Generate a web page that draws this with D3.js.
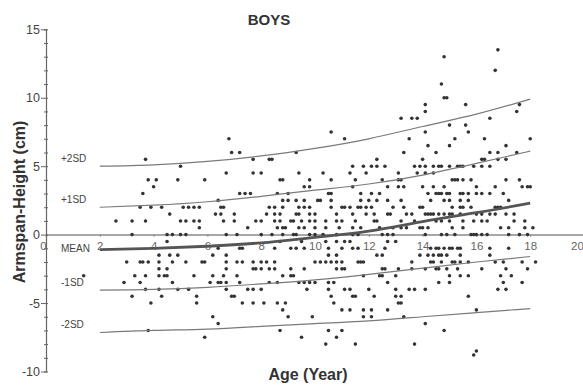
<!DOCTYPE html>
<html>
<head>
<meta charset="utf-8">
<script src="https://cdn.jsdelivr.net/npm/d3@7"></script>
<style>
  body { margin: 0; background: #fff; }
  svg { font-family: "Liberation Sans", Arial, sans-serif; }
</style>
</head>
<body>
<div id="chart"></div>
<script>
var width = 583, height = 388;

// reference curves (age in years, armspan minus height in cm)
var sdAges   = [2, 4, 6, 8, 10, 12, 14, 16, 18];
var plus2SD  = [5.0, 5.1, 5.35, 5.75, 6.3, 7.0, 7.9, 8.8, 9.9];
var plus1SD  = [2.0, 2.15, 2.4, 2.8, 3.25, 3.7, 4.35, 5.2, 6.1];
var meanLine = [-1.1, -1.0, -0.85, -0.6, -0.2, 0.25, 0.95, 1.6, 2.3];
var minus1SD = [-4.05, -4.0, -3.85, -3.6, -3.3, -2.9, -2.45, -2.0, -1.6];
var minus2SD = [-7.15, -7.0, -6.9, -6.7, -6.5, -6.3, -6.0, -5.7, -5.4];
var curveNames = ["+2SD", "+1SD", "MEAN", "-1SD", "-2SD"];

var xTicks = [0, 2, 4, 6, 8, 10, 12, 14, 16, 18, 20];
var yTicks = [-10, -5, 0, 5, 10, 15];

// individual boys: [age, armspan - height]
var boys = [
  [1.4,-3],[2.6,1],[2.9,-3.5],[3.0,-2],[3.2,-4.5],[3.5,-3.5],[3.5,2],[3.6,3],[3.7,5.5],[3.8,4],
  [4.1,4],[4.0,3.5],[4.9,4],[5.9,4],[5.0,5],[6.7,4.5],[6.8,7],[6.9,6],[7.2,6],[7.2,3],[6.4,2.5],
  [3.9,2],[4.3,2],[5.1,2],[5.3,2],[5.5,2],[5.7,2],[6.5,2],[6.6,2],
  [4.6,1.5],[6.3,1.5],[6.5,1.5],[7.0,1.5],
  [3.2,1],[3.7,1],[5.0,1],[5.2,1],[5.5,1],[5.7,1],[6.6,1],[7.0,1],[5.7,0.5],
  [3.2,0],[4.5,0],[4.7,0],[5.0,0],[5.2,0],[6.7,0],[7.1,0],[4.5,-0.5],
  [6.2,-1.5],[6.4,-1],[6.7,-1.5],[4.6,-1.5],[4.9,-1.5],
  [3.5,-2],[3.6,-2],[3.8,-2],[4.2,-1.5],[4.2,-2],[4.7,-2],[5.2,-2],[5.8,-2],[5.9,-2],[6.7,-2],[7.1,-2],
  [4.2,-2.5],[4.5,-2.5],[6.7,-2.5],
  [3.3,-3],[3.7,-3],[4.2,-3],[4.4,-3],[4.5,-3],[5.5,-3],[6.2,-3],[6.6,-3],[7.1,-3],
  [4.7,-3.5],[6.1,-3.5],[6.4,-3.5],[6.5,-3.5],[6.7,-3.5],[7.2,-3.5],
  [3.7,-4],[4.2,-4],[4.9,-4],[5.3,-4],[6.7,-4],
  [4.3,-4.5],[5.6,-4.5],[6.9,-4.5],[7.0,-4.5],[3.9,-5],[5.6,-5],
  [6.2,-6],[6.4,-6.5],[3.8,-7],[5.9,-7.5],

  [10.6,7.5],[11.1,7],[9.3,6],[7.7,5.5],[8.3,5.5],[8.4,5.5],
  [7.7,4.5],[8.0,4.5],[9.4,4.5],[10.3,4.5],[11.3,4.5],[11.9,4.5],
  [11.4,5],[11.8,5],[12.1,5],[12.3,5],[12.3,5.5],
  [8.7,4],[8.8,4],[10.6,4],[11.5,4],[9.8,4],[9.6,3.5],[9.8,3.5],[11.4,3.5],
  [7.4,3],[7.6,3],[8.6,3],[9.0,3],[10.5,3],[10.6,3],[11.7,3],[12.1,3],[12.4,3],
  [8.8,2.5],[9.0,2.5],[9.3,2.5],[9.6,2.5],[10.1,2.5],[10.2,2.5],[10.6,2.5],[11.7,2.5],[12.0,2.5],[12.3,2.5],
  [8.3,2],[8.5,2],[8.8,2],[9.4,2],[9.6,2],[9.8,2],[10.6,2],[11.0,2],[11.1,2],[11.3,2],[11.6,2],[11.7,2],[11.9,2],[12.1,2],
  [8.2,1.5],[8.5,1.5],[8.7,1.5],[9.3,1.5],[9.4,1.5],[9.8,1.5],[10.0,1.5],[10.8,1.5],[11.4,1.5],[11.9,1.5],[12.2,1.5],
  [7.8,1],[8.0,1],[8.5,1],[8.7,1],[9.1,1],[9.2,1],[9.5,1],[9.8,1],[10.0,1],[10.4,1],[10.8,1],[11.0,1],[11.5,1],[12.2,1],[12.3,1],
  [7.5,0.5],[8.6,0.5],[8.8,0.5],[8.9,0.5],[9.4,0.5],[9.6,0.5],[10.0,0.5],[10.4,0.5],[10.9,0.5],[11.4,0.5],[11.7,0.5],
  [8.0,0],[8.4,0],[8.8,0],[9.2,0],[9.3,0],[9.8,0],[10.0,0],[10.3,0],[10.8,0],[11.4,0],[11.6,0],[12.5,0],
  [7.2,-1],[7.3,-1],[8.5,-1],[8.7,-0.5],[9.1,-1],[9.3,-1],[9.5,-0.5],[9.6,-1],[10.4,-0.5],[10.5,-1],
  [10.8,-0.5],[11.0,-1],[11.1,-0.5],[11.3,-0.5],[11.4,-1],[11.6,-1],
  [10.5,-1.5],[10.8,-1.5],[12.3,-1.5],[12.5,-1.5],
  [7.3,-2],[7.7,-2],[8.0,-2],[8.2,-2],[8.5,-2],[10.0,-2],[10.2,-2],[10.4,-2],[10.6,-2],[10.8,-2],[11.0,-2],[11.6,-2],[11.7,-2],[11.8,-2],
  [7.7,-2.5],[7.8,-2.5],[8.0,-2.5],[8.3,-2.5],[8.5,-2.5],[9.1,-2.5],[9.6,-2.5],[10.8,-2.5],[11.0,-2.5],[11.1,-2.5],[12.5,-2.5],
  [8.8,-3],[9.1,-3],[9.2,-3],[11.8,-3],
  [8.3,-3.5],[8.6,-3.5],[9.4,-3.5],[9.6,-3.5],[9.8,-3.5],[10.0,-3.5],[10.5,-3.5],[10.7,-3.5],
  [7.5,-4],[7.7,-4],[8.0,-4],[9.7,-4],[10.5,-4],[11.1,-4],[11.3,-4],[12.0,-4],
  [10.6,-4.5],[11.4,-4.5],[11.5,-4.5],[12.2,-4.5],
  [7.3,-5],[7.7,-5],[8.1,-5],[8.6,-5],[8.9,-5],[10.7,-5],
  [8.8,-5.5],[11.0,-5.5],[11.3,-5.5],[11.8,-5.5],[12.1,-5.5],
  [9.0,-6],[9.9,-6],[12.1,-6],[11.8,-6],[8.7,-7],[10.5,-7],[11.0,-7],
  [9.5,-7.5],[10.8,-7.5],[10.4,-8],[11.5,-8],

  [16.8,13.5],[14.8,13],[16.7,12],[14.7,11],[14.8,10],[14.9,10],[14.1,9.5],[14.1,9],[15.6,9.5],[17.6,9.5],[17.5,9],
  [13.2,8.5],[13.6,8.5],[13.8,8.5],[15.0,8],[16.5,8.5],[15.6,8],[15.7,7.5],[14.1,7.5],
  [13.5,7],[15.0,6.5],[15.2,7],[16.3,7],[18.0,7],[14.2,6.5],[14.5,6],[13.3,6],[14.0,5.5],[12.6,5],
  [16.5,6],[16.8,6],[17.1,6.5],[17.5,6],[16.2,5.5],[16.3,5.5],[16.8,5.5],[16.5,5],[17.1,5.5],
  [13.7,5],[13.9,5],[14.1,5],[14.4,5],[14.6,5],[14.7,5],[15.0,5],[15.3,5],[15.4,5],[15.5,5],[15.9,5],[16.2,5],
  [13.1,4.5],[13.1,4],[13.2,4],[13.8,4.5],[14.1,4.5],[14.4,4.5],
  [15.1,4],[15.2,4],[15.3,4],[15.5,4],[15.8,4],[12.5,4],
  [12.7,3.5],[13.1,3.5],[13.3,3.5],[16.7,3.5],[17.1,4],[17.6,4],[17.7,3.5],[17.9,3.5],[18.0,3.5],[14.0,3.5],
  [14.4,3.5],[14.8,3.5],[14.5,3],[14.9,3],
  [15.0,3],[15.4,3],[15.5,3],[15.7,3],[16.0,3.5],[16.2,3],[16.5,3],[17.0,3],[17.2,2.5],
  [14.2,3],[14.3,2.5],[14.6,3],[14.7,3],[14.8,2.5],[15.0,2.5],[15.1,2],
  [15.4,2.5],[15.5,2],[15.7,2.5],[16.0,3],
  [12.7,2.5],[12.9,2],[13.2,2.5],[13.3,2],[13.4,1.5],[13.6,1.5],[12.7,1.5],[12.8,1.5],
  [13.9,2],[14.0,2],[14.1,1.5],[14.2,1.5],[14.4,1.5],[14.6,1.5],[14.8,1.5],[15.0,1.5],[15.1,1.5],
  [15.4,2],[15.4,1.5],[15.8,2],[16.0,1.5],[16.2,1.5],[16.5,1.5],[16.7,2],[16.8,2],[16.9,2],[17.1,1.5],[17.4,1.5],
  [17.4,1],[17.8,1],[18.1,0.5],
  [13.2,1],[13.4,0.5],[13.7,1],[13.9,0.5],[14.0,0.5],[14.1,0],[14.2,0.5],
  [14.3,1.5],[14.5,1],[14.7,1],[15.0,1],[15.1,0.5],
  [15.5,1],[15.9,1],[16.2,1],[16.4,1],[16.7,1.5],
  [12.4,0.5],[12.9,0.5],[13.2,0.5],[15.5,0.5],[15.9,0],[16.2,0],[16.9,0.5],[17.2,0.5],[17.8,0.5],
  [12.7,0],[12.9,0],[14.7,0],[14.9,0],[15.2,0],[15.8,0],[16.0,0],[16.4,0],[17.2,0],[17.6,0],[17.9,0],
  [12.7,-0.5],[13.0,-0.5],[14.3,-1],[14.5,-1],[14.6,-1],[14.8,-1],[15.0,-1],[15.1,-1],[15.3,-1],[15.4,-1],[12.6,-1],
  [13.9,-1.5],[14.2,-1.5],[14.4,-1.5],[14.6,-1.5],[14.7,-1.5],[14.9,-1.5],
  [16.5,-1],[16.5,-1.5],[15.4,-1.5],[15.4,-2],[15.7,-2],[17.2,-1],
  [13.6,-2],[13.6,-2.5],[14.3,-2],[14.4,-2],[14.6,-2.5],[14.7,-2],[15.1,-2],[15.2,-2],[13.1,-2.5],
  [12.6,-2.5],[12.4,-3],[12.5,-3],[13.0,-3],
  [14.1,-2.5],[14.5,-2.5],[14.9,-2.5],[15.0,-3],[15.3,-2.5],[15.4,-3],
  [16.7,-2],[17.0,-2],[17.1,-2.5],[17.7,-2],[17.9,-2.5],[18.2,-2],
  [15.7,-3],[16.2,-2.5],[16.9,-3],[17.3,-3],
  [12.7,-3.5],[13.5,-4],[13.7,-4],[14.1,-4],[14.6,-3.5],[15.0,-3.5],[17.0,-3.5],[16.8,-4],[17.1,-4],[17.7,-3.5],[13.0,-4],
  [13.0,-4.5],[13.1,-5],[13.2,-4.5],[13.2,-5],[15.7,-4.5],
  [12.7,-5.5],[16.0,-5.5],[13.3,-6],[14.1,-6.5],[14.8,-7],[13.7,-8],[15.9,-8.8],[16.0,-8.5]
];

var svg = d3.select("#chart")
  .append("svg")
    .attr("width", width)
    .attr("height", height);

var x = d3.scaleLinear().domain([0, 20]).range([46, 584]);
var y = d3.scaleLinear().domain([-10, 15]).range([371.5, 29.3]);

// zero line doubles as the x axis
var xAxis = svg.append("g")
  .attr("transform", "translate(0," + y(0) + ")")
  .call(d3.axisBottom(x).tickValues(xTicks).tickSize(2).tickPadding(5).tickFormat(d3.format("d")));
xAxis.select(".domain").attr("stroke", "#8a8a8a").attr("stroke-width", 1.5);
xAxis.selectAll(".tick line").attr("stroke", "#777");
xAxis.selectAll(".tick text")
  .attr("fill", "#666").style("font-size", "11.5px")
  .attr("dx", function(d) { return d === 0 ? -3 : (d === 20 ? -7 : 0); });

// y axis with minor ticks
svg.append("g")
  .attr("transform", "translate(46,0)")
  .call(d3.axisRight(y).ticks(25).tickSize(2).tickFormat(""))
  .call(function(g) { g.select(".domain").remove(); })
  .selectAll("line").attr("stroke", "#666");

var yAxis = svg.append("g")
  .attr("transform", "translate(46,0)")
  .call(d3.axisLeft(y).tickValues(d3.range(-10, 16)).tickSize(2).tickPadding(4)
    .tickFormat(function(d) { return yTicks.indexOf(d) >= 0 ? d : ""; }));
yAxis.select(".domain").attr("stroke", "#666").attr("stroke-width", 1.2);
yAxis.selectAll(".tick line").attr("stroke", "#666");
yAxis.selectAll(".tick")
  .filter(function(d) { return yTicks.indexOf(d) >= 0; })
  .select("line").attr("x2", -5);
yAxis.selectAll(".tick text").attr("fill", "#444").style("font-size", "12.5px");

// scatter
svg.append("g")
  .selectAll("circle")
  .data(boys)
  .join("circle")
    .attr("cx", function(d) { return x(d[0]); })
    .attr("cy", function(d) { return y(d[1]); })
    .attr("r", 1.8)
    .attr("fill", "#333");

// percentile curves
var curves = [plus2SD, plus1SD, meanLine, minus1SD, minus2SD];
var line = d3.line()
  .x(function(d, i) { return x(sdAges[i]); })
  .y(function(d) { return y(d); })
  .curve(d3.curveNatural);

svg.append("g")
  .selectAll("path")
  .data(curves)
  .join("path")
    .attr("d", line)
    .attr("fill", "none")
    .attr("stroke", function(d, i) { return i === 2 ? "#555" : "#7a7a7a"; })
    .attr("stroke-width", function(d, i) { return i === 2 ? 2.8 : 1.2; });

svg.append("g")
  .selectAll("text")
  .data(curves)
  .join("text")
    .attr("x", 61)
    .attr("y", function(d, i) { return y(d[0]) + (i === 2 ? 2 : -4); })
    .attr("fill", "#444")
    .style("font-size", "10px")
    .text(function(d, i) { return curveNames[i]; });

// titles
svg.append("text")
  .attr("x", 269).attr("y", 25)
  .attr("text-anchor", "middle")
  .attr("fill", "#333")
  .style("font-size", "15px").style("font-weight", "bold")
  .text("BOYS");

svg.append("text")
  .attr("transform", "translate(25,202) rotate(-90)")
  .attr("text-anchor", "middle")
  .attr("fill", "#333")
  .style("font-size", "16px").style("font-weight", "bold")
  .text("Armspan-Height (cm)");

svg.append("text")
  .attr("x", 308).attr("y", 380)
  .attr("text-anchor", "middle")
  .attr("fill", "#333")
  .style("font-size", "16px").style("font-weight", "bold")
  .text("Age (Year)");
</script>
</body>
</html>
